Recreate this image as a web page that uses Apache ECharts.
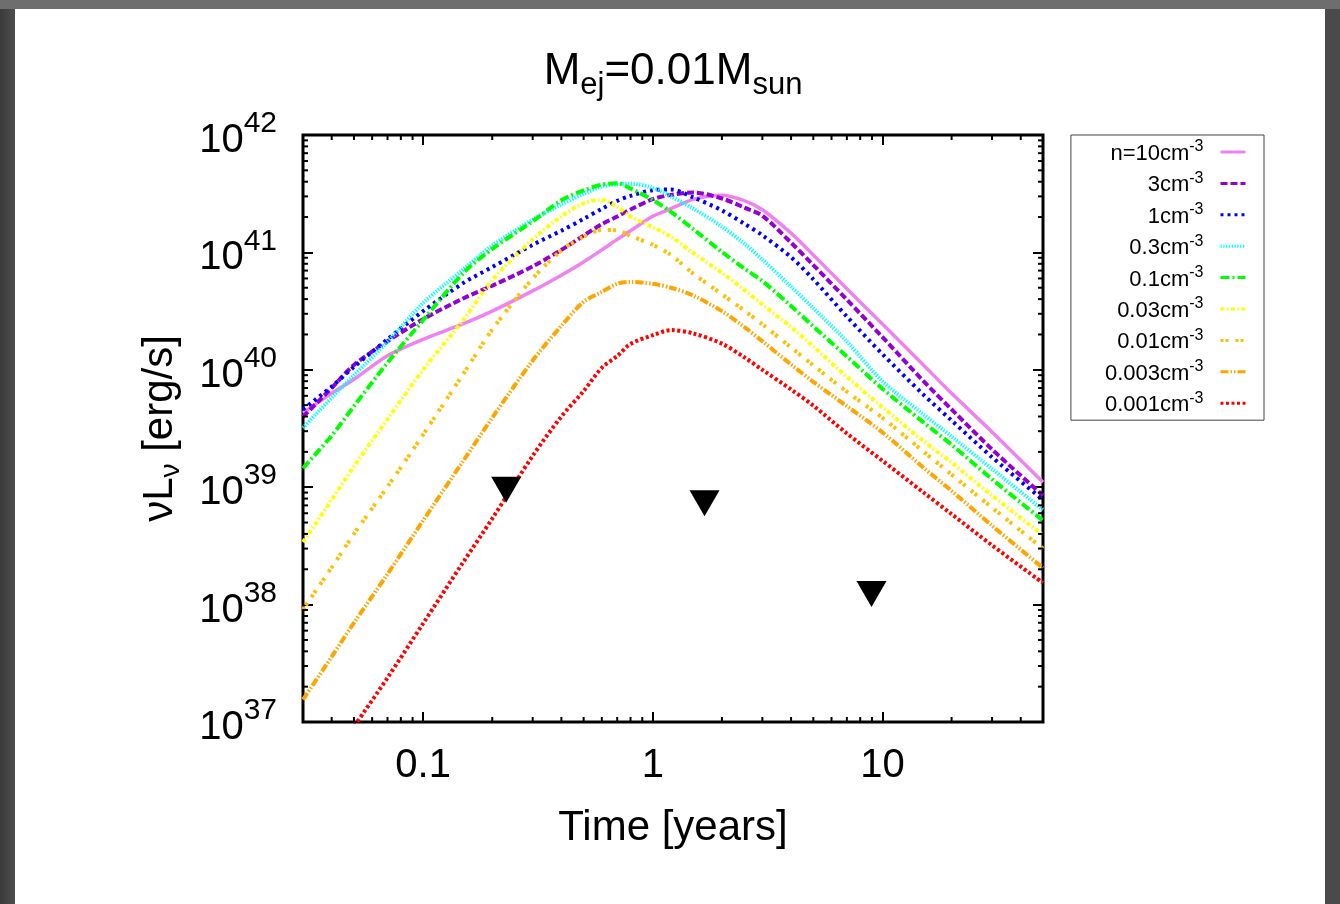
<!DOCTYPE html>
<html><head><meta charset="utf-8">
<script src="https://cdn.jsdelivr.net/npm/echarts@6/dist/echarts.min.js"></script>
<style>
html,body{margin:0;padding:0;width:1340px;height:904px;overflow:hidden;background:#4a4a4a;}
#left{position:absolute;left:0;top:0;width:15px;height:904px;background:linear-gradient(to right,#3a3a3a,#4e4e4e);}
#top{position:absolute;left:0;top:0;width:1340px;height:9px;background:#6e6e6e;}
#panel{position:absolute;left:15px;top:9px;width:1310px;height:895px;background:#fff;}
#chart{position:absolute;left:0;top:0;width:1340px;height:904px;}
</style></head><body>
<div id="left"></div><div id="top"></div><div id="panel"></div><div id="chart"></div>
<script>
// ---- data ----
const times = [0.03, 0.04, 0.05, 0.07, 0.1, 0.15, 0.2, 0.3, 0.4, 0.5, 0.6, 0.7, 0.8, 1, 1.2, 1.5, 2, 2.5, 3, 4, 5, 7, 10, 15, 20, 30, 50];
const seriesNames = ['n=10cm-3', '3cm-3', '1cm-3', '0.3cm-3', '0.1cm-3', '0.03cm-3', '0.01cm-3', '0.003cm-3', '0.001cm-3'];
const n10   = [4.3e39, 6.3e39, 8.3e39, 1.32e40, 1.82e40, 2.47e40, 3.16e40, 4.7e40, 6.4e40, 8.3e40, 1.05e41, 1.29e41, 1.53e41, 2.03e41, 2.36e41, 2.83e41, 3.07e41, 2.76e41, 2.31e41, 1.46e41, 9.5e40, 4.9e40, 2.45e40, 1.11e40, 6.3e39, 2.95e39, 1.1e39];
const n3    = [3.98e39, 7.0e39, 1.1e40, 1.75e40, 2.7e40, 4.07e40, 5.2e40, 7.6e40, 1.05e41, 1.39e41, 1.74e41, 2.02e41, 2.32e41, 2.84e41, 3.09e41, 3.24e41, 2.88e41, 2.41e41, 2.05e41, 1.21e41, 7.8e40, 3.95e40, 1.9e40, 8.1e39, 4.6e39, 2.1e39, 8.5e38];
const n1    = [4.6e39, 7.2e39, 1.06e40, 1.82e40, 3.16e40, 5.5e40, 7.5e40, 1.16e41, 1.53e41, 1.93e41, 2.35e41, 2.75e41, 3.03e41, 3.39e41, 3.43e41, 2.94e41, 2.28e41, 1.76e41, 1.4e41, 9.1e40, 5.9e40, 2.84e40, 1.36e40, 6.2e39, 3.7e39, 1.8e39, 7.8e38];
const n03   = [3.2e39, 5.8e39, 9.0e39, 1.73e40, 3.7e40, 7.2e40, 1.14e41, 1.9e41, 2.56e41, 3.15e41, 3.64e41, 3.8e41, 3.85e41, 3.55e41, 3.0e41, 2.36e41, 1.66e41, 1.19e41, 8.7e40, 5.1e40, 3.35e40, 1.74e40, 8.0e39, 4.2e39, 2.7e39, 1.43e39, 6.4e38];
const n01   = [1.45e39, 2.75e39, 4.9e39, 1.15e40, 2.65e40, 6.7e40, 1.07e41, 1.84e41, 2.78e41, 3.37e41, 3.78e41, 3.88e41, 3.5e41, 2.8e41, 2.21e41, 1.58e41, 1.01e41, 7.3e40, 5.7e40, 3.5e40, 2.34e40, 1.3e40, 6.9e39, 3.6e39, 2.3e39, 1.17e39, 5.2e38];
const n003  = [3.4e38, 7.8e38, 1.5e39, 3.8e39, 1.0e40, 2.67e40, 5.8e40, 1.29e41, 2.02e41, 2.62e41, 2.8e41, 2.45e41, 2.02e41, 1.64e41, 1.36e41, 9.9e40, 6.7e40, 4.8e40, 3.6e40, 2.31e40, 1.58e40, 8.7e39, 4.8e39, 2.5e39, 1.62e39, 8.5e38, 3.9e38];
const n001  = [9.1e37, 2.07e38, 4.0e38, 1.01e39, 2.8e39, 9.3e39, 2.2e40, 6.0e40, 1.04e41, 1.36e41, 1.55e41, 1.54e41, 1.38e41, 1.16e41, 9.5e40, 6.6e40, 4.4e40, 3.2e40, 2.44e40, 1.55e40, 1.09e40, 6.5e39, 3.9e39, 2.03e39, 1.28e39, 6.7e38, 3.0e38];
const n0003 = [1.55e37, 3.6e37, 7.0e37, 1.82e38, 5.2e38, 1.69e39, 3.9e39, 1.2e40, 2.37e40, 3.8e40, 4.6e40, 5.4e40, 5.6e40, 5.4e40, 5.0e40, 4.3e40, 3.16e40, 2.32e40, 1.75e40, 1.11e40, 7.9e39, 4.9e39, 2.93e39, 1.48e39, 9.3e38, 4.7e38, 2.05e38];
const n0001 = [2.0e36, 4.7e36, 9.1e36, 2.38e37, 6.9e37, 2.32e38, 5.4e38, 1.85e39, 4.0e39, 6.6e39, 1.04e40, 1.31e40, 1.66e40, 1.97e40, 2.18e40, 2.04e40, 1.67e40, 1.28e40, 1.0e40, 6.8e39, 4.95e39, 2.87e39, 1.68e39, 9.1e38, 5.9e38, 3.2e38, 1.53e38];
const seriesValues = [n10, n3, n1, n03, n01, n003, n001, n0003, n0001];
// upper limits (black triangles)
const limitTimes = [0.23, 1.68, 8.96];
const limitLum = [9.5e38, 7.3e38, 1.23e38];
// axes / ticks
const xRange = [0.03, 50];
const yRange = [1e37, 1e42];
const xTickLabels = [0.1, 1, 10];
const yTickExps = [37, 38, 39, 40, 41, 42];
const minorXTicks = [0.04, 0.05, 0.06, 0.07, 0.08, 0.09, 0.2, 0.3, 0.4, 0.5, 0.6, 0.7, 0.8, 0.9, 2, 3, 4, 5, 6, 7, 8, 9, 20, 30, 40];
const minorYMult = [2, 3, 4, 5, 6, 7, 8, 9];
const minorYExps = [37, 38, 39, 40, 41];

// ---- styles ----
const FONT = '"Liberation Sans", Arial, Helvetica, sans-serif';
const lineStyles = [
  {color: '#ee82ee', type: 'solid', width: 3.5},
  {color: '#9400d3', type: [7, 3], width: 4},
  {color: '#0000ff', type: [3, 4], width: 4},
  {color: '#00ffff', type: [1.3, 1.5], width: 4},
  {color: '#00ff00', type: [9, 3, 2, 3], width: 4},
  {color: '#ffff00', type: [4, 2.5, 1.5, 2.5], width: 4},
  {color: '#ffc000', type: [3, 2, 3, 7], width: 4},
  {color: '#ffa500', type: [8, 2, 1.5, 2, 1.5, 2], width: 4},
  {color: '#ff0000', type: [3, 2.5], width: 4}
];

const minorY = [];
minorYExps.forEach(e => minorYMult.forEach(m => minorY.push(m * Math.pow(10, e))));

const chart = echarts.init(document.getElementById('chart'), null, {renderer: 'canvas'});

function xLabelFmt(v) {
  for (const t of xTickLabels) { if (Math.abs(Math.log10(v) - Math.log10(t)) < 1e-6) return String(t); }
  return '';
}
function yLabelFmt(v) {
  const e = Math.round(Math.log10(v));
  if (yTickExps.indexOf(e) < 0) return '';
  return '{b|10}{s|' + e + '}';
}
const tickStyle = {stroke: '#000', lineWidth: 2};
function renderMinorX(params, api) {
  const v = api.value(0);
  const b = api.coord([v, yRange[0]]);
  const t = api.coord([v, yRange[1]]);
  return {type: 'group', children: [
    {type: 'line', shape: {x1: b[0], y1: b[1], x2: b[0], y2: b[1] - 5}, style: tickStyle},
    {type: 'line', shape: {x1: t[0], y1: t[1], x2: t[0], y2: t[1] + 5}, style: tickStyle}
  ]};
}
function renderMinorY(params, api) {
  const v = api.value(1);
  const l = api.coord([xRange[0], v]);
  const r = api.coord([xRange[1], v]);
  return {type: 'group', children: [
    {type: 'line', shape: {x1: l[0], y1: l[1], x2: l[0] + 5, y2: l[1]}, style: tickStyle},
    {type: 'line', shape: {x1: r[0], y1: r[1], x2: r[0] - 5, y2: r[1]}, style: tickStyle}
  ]};
}

const majorTick = {show: true, inside: true, length: 10, lineStyle: {color: '#000', width: 2}};
const baseX = {type: 'log', logBase: 10, min: xRange[0], max: xRange[1], axisLine: {show: false}, splitLine: {show: false}, minorTick: {show: false}, axisTick: majorTick};
const baseY = {type: 'log', logBase: 10, min: yRange[0], max: yRange[1], axisLine: {show: false}, splitLine: {show: false}, minorTick: {show: false}, axisTick: majorTick};

const series = seriesNames.map((name, i) => ({
  name: name,
  type: 'line',
  data: times.map((t, k) => [t, seriesValues[i][k]]),
  symbol: 'none',
  smooth: 0.3,
  lineStyle: lineStyles[i],
  itemStyle: {color: lineStyles[i].color},
  z: 2 + i * 0.01,
  clip: true
}));
series.push({
  type: 'scatter', name: 'limits',
  data: limitTimes.map((t, i) => [t, limitLum[i]]),
  symbol: 'triangle', symbolRotate: 180, symbolSize: [30, 26],
  itemStyle: {color: '#000', opacity: 1}, z: 5
});
series.push({type: 'custom', renderItem: renderMinorX, data: minorXTicks.map(v => [v, yRange[0]]), encode: {x: 0, y: 1}, silent: true, z: 4});
series.push({type: 'custom', renderItem: renderMinorY, data: minorY.map(v => [xRange[0], v]), encode: {x: 0, y: 1}, silent: true, z: 4});

chart.setOption({
  animation: false,
  backgroundColor: 'transparent',
  title: {
    text: '{a|M}{s|ej}{a|=0.01M}{s|sun}',
    left: 673, top: 50, textAlign: 'center', padding: 0,
    textStyle: {fontWeight: 'normal', rich: {
      a: {fontSize: 44, lineHeight: 51, verticalAlign: 'top', color: '#000', fontFamily: FONT, fontWeight: 'normal'},
      s: {fontSize: 31, verticalAlign: 'bottom', color: '#000', fontFamily: FONT, fontWeight: 'normal'}
    }}
  },
  grid: {left: 303, top: 135, width: 740, height: 587, show: true, borderColor: '#000', borderWidth: 3, backgroundColor: 'transparent', containLabel: false},
  xAxis: [
    Object.assign({}, baseX, {
      position: 'bottom',
      axisLabel: {margin: 21, showMinLabel: false, showMaxLabel: false, formatter: xLabelFmt, fontSize: 40, lineHeight: 46, color: '#000', fontFamily: FONT},
      name: 'Time [years]', nameLocation: 'middle', nameGap: 81,
      nameTextStyle: {fontSize: 42, lineHeight: 50, color: '#000', fontFamily: FONT}
    }),
    Object.assign({}, baseX, {position: 'top', axisLabel: {show: false}})
  ],
  yAxis: [
    Object.assign({}, baseY, {
      position: 'left',
      axisLabel: {margin: 26, formatter: yLabelFmt, rich: {
        b: {fontSize: 40, lineHeight: 52, verticalAlign: 'bottom', color: '#000', fontFamily: FONT},
        s: {fontSize: 30, verticalAlign: 'top', color: '#000', fontFamily: FONT}
      }},
      name: '{b|νL}{s|ν}{b| [erg/s]}', nameLocation: 'middle', nameGap: 118, nameRotate: 90,
      nameTextStyle: {rich: {
        b: {fontSize: 42, lineHeight: 46, verticalAlign: 'top', color: '#000', fontFamily: FONT},
        s: {fontSize: 28, verticalAlign: 'bottom', color: '#000', fontFamily: FONT}
      }}
    }),
    Object.assign({}, baseY, {position: 'right', axisLabel: {show: false}})
  ],
  legend: {
    data: seriesNames,
    orient: 'vertical', right: 76, top: 135, align: 'right',
    itemWidth: 25, itemHeight: 14, itemGap: 5.4,
    padding: [4, 17, 4, 34], borderColor: '#444', borderWidth: 1,
    selectedMode: false,
    lineStyle: {width: 3},
    itemStyle: {opacity: 0},
    formatter: name => '{b|' + name.replace('-3', '') + '}{s|-3}',
    textStyle: {rich: {
      b: {fontSize: 22, lineHeight: 26, verticalAlign: 'bottom', color: '#000', fontFamily: FONT},
      s: {fontSize: 16, verticalAlign: 'top', color: '#000', fontFamily: FONT, padding: [0, 12, 0, 0]}
    }}
  },
  series: series
});
</script></body></html>
